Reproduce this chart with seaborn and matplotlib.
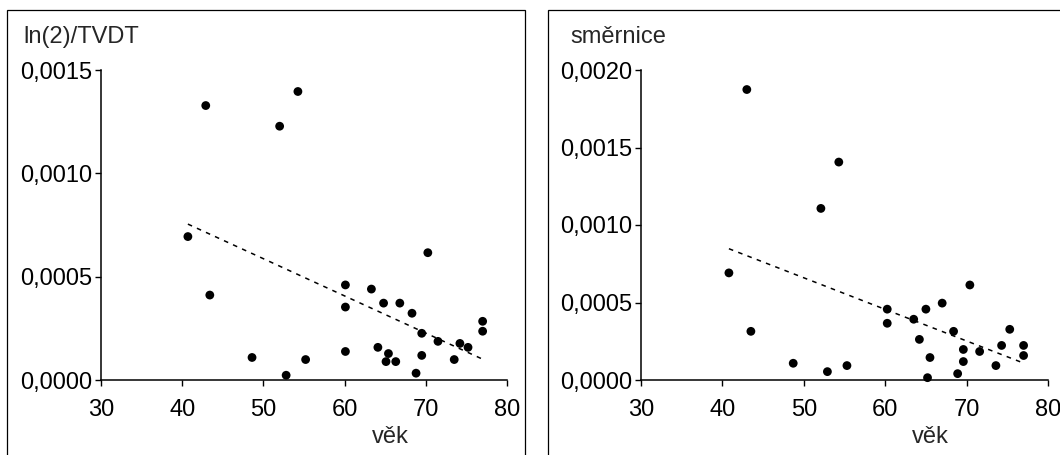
import matplotlib
matplotlib.use("Agg")
import matplotlib.pyplot as plt
from matplotlib.patches import Rectangle
from matplotlib.ticker import FuncFormatter
import numpy as np
import pandas as pd
import seaborn as sns

# Age of each patient and the two growth measures
age_tvdt = [40.7, 42.9, 43.4, 48.6, 52.0, 52.8, 54.25, 55.2, 60.1, 60.1, 60.1,
            63.3, 64.1, 64.8, 65.4, 65.1, 66.3, 66.8, 68.3, 68.8, 69.5, 69.5,
            70.25, 71.5, 73.5, 74.2, 75.2, 77.0, 77.0]
ln2_tvdt = [0.000694, 0.001328, 0.000411, 0.000109, 0.001228, 0.000023, 0.001396,
            0.000099, 0.000460, 0.000353, 0.000138, 0.000440, 0.000158, 0.000372,
            0.000128, 0.000089, 0.000089, 0.000372, 0.000323, 0.000033, 0.000226,
            0.000119, 0.000616, 0.000187, 0.000099, 0.000177, 0.000158, 0.000284,
            0.000236]

age_slope = [40.8, 43.0, 43.5, 48.7, 52.1, 52.9, 54.3, 55.3, 60.25, 60.25, 63.5,
             64.2, 65.0, 65.2, 65.5, 67.0, 68.4, 68.9, 69.6, 69.6, 70.4, 71.6,
             73.6, 74.3, 75.3, 77.0, 77.0]
slope = [0.000691, 0.001874, 0.000314, 0.000108, 0.001107, 0.000054, 0.001406,
         0.000093, 0.000457, 0.000366, 0.000392, 0.000262, 0.000457, 0.000015,
         0.000145, 0.000496, 0.000314, 0.000041, 0.000197, 0.000119, 0.000613,
         0.000184, 0.000093, 0.000223, 0.000327, 0.000223, 0.000158]

x_ticks = [30, 40, 50, 60, 70, 80]
y_ticks_left = [0.0, 0.0005, 0.0010, 0.0015]
y_ticks_right = [0.0, 0.0005, 0.0010, 0.0015, 0.0020]

sns.set_theme(style="white")
plt.rcParams["font.family"] = ["Liberation Sans", "DejaVu Sans"]

W, H = 1060, 455
FS = 17
fig = plt.figure(figsize=(W / 100, H / 100), dpi=100)

# panel frames
fig.add_artist(Rectangle((7 / W, -0.05), 518 / W, 1.05 - 10 / H, transform=fig.transFigure,
                         fill=False, edgecolor="black", linewidth=0.9))
fig.add_artist(Rectangle((548 / W, -0.05), 0.6, 1.05 - 10 / H, transform=fig.transFigure,
                         fill=False, edgecolor="black", linewidth=0.9))

comma = FuncFormatter(lambda v, pos: f"{v:.4f}".replace(".", ","))

def panel(rect, x, y, yticks, title, title_x, xlabel_x):
    ax = fig.add_axes(rect)
    df = pd.DataFrame({"x": x, "y": y})
    sns.scatterplot(data=df, x="x", y="y", ax=ax, color="black", s=40,
                    edgecolor="none", linewidth=0)
    sns.regplot(data=df, x="x", y="y", ax=ax, scatter=False, ci=None,
                line_kws=dict(color="black", linewidth=1.1, linestyle=(0, (3, 3.5))))
    ax.set_xlim(30, 80)
    ax.set_ylim(yticks[0], yticks[-1])
    ax.set_xticks(x_ticks)
    ax.set_yticks(yticks)
    ax.yaxis.set_major_formatter(comma)
    ax.set_xlabel("")
    ax.set_ylabel("")
    for s in ("top", "right"):
        ax.spines[s].set_visible(False)
    for s in ("left", "bottom"):
        ax.spines[s].set_color("black")
        ax.spines[s].set_linewidth(1.1)
    ax.tick_params(axis="both", direction="out", length=4.5, width=1.0,
                   color="black", labelsize=FS, labelcolor="black")
    ax.tick_params(axis="x", pad=9, bottom=True)
    ax.tick_params(axis="y", pad=1.5, left=True)
    ax.patch.set_alpha(0)
    for c in ax.collections:
        c.set_clip_on(False)
    fig.text(title_x / W, 1 - 43 / H, title, fontsize=FS, va="baseline", ha="left")
    fig.text(xlabel_x / W, 1 - 443 / H, "věk", fontsize=FS, va="baseline", ha="center")
    return ax

bottom = (H - 380) / H
height = (380 - 70) / H
panel([101 / W, bottom, 406 / W, height], age_tvdt, ln2_tvdt, y_ticks_left,
      "ln(2)/TVDT", 23, 390)
panel([641 / W, bottom, 407 / W, height], age_slope, slope, y_ticks_right,
      "směrnice", 570, 930)

fig.savefig("out.png", dpi=100)
